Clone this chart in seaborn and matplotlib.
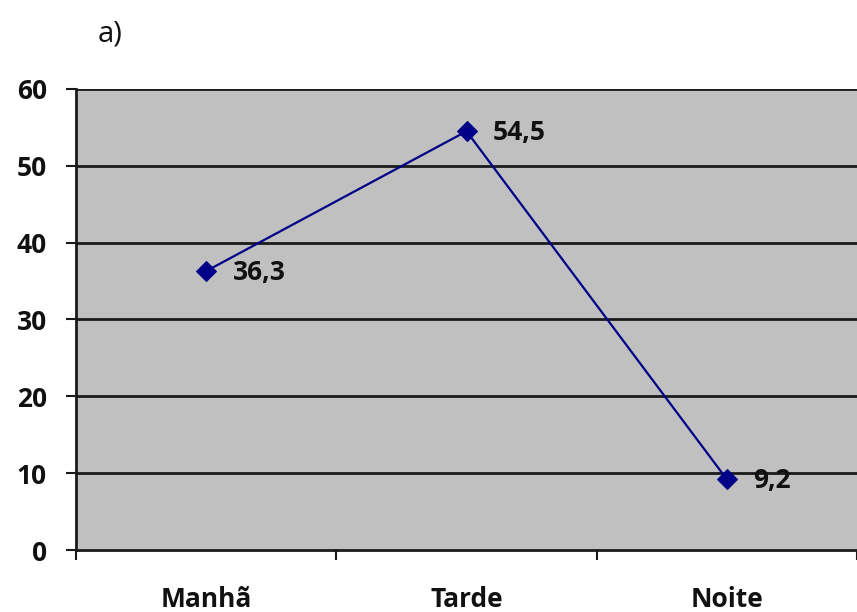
import matplotlib
matplotlib.use("Agg")
import matplotlib.pyplot as plt
import seaborn as sns
import pandas as pd

# Share by period of the day (%)
periods = ["Manhã", "Tarde", "Noite"]
values = [36.3, 54.5, 9.2]
value_labels = ["36,3", "54,5", "9,2"]
y_ticks = [0, 10, 20, 30, 40, 50, 60]

df = pd.DataFrame({"periodo": periods, "valor": values})

sns.set_theme(style="white")
plt.rcParams["font.family"] = ["Open Sans", "DejaVu Sans"]

FS = 19
fig = plt.figure(figsize=(8.57, 6.12), dpi=100)
ax = fig.add_axes([0.0887, 0.1013, 0.9113, 0.7533])
ax.set_facecolor("#C0C0C0")

# horizontal gridlines
for t in y_ticks[1:]:
    ax.axhline(t, color="#1a1a1a", lw=2.0, zorder=1)

sns.lineplot(data=df, x="periodo", y="valor", ax=ax, color="#000088",
             lw=1.6, marker="D", markersize=10, markeredgecolor="#000088",
             zorder=3, sort=False)

for i, (v, lab) in enumerate(zip(values, value_labels)):
    ax.annotate(lab, (i, v), xytext=(19, -1), textcoords="offset points",
                ha="left", va="center", fontsize=FS, fontweight="bold",
                color="#111111")

ax.set_xlim(-0.5, 2.5)
ax.set_ylim(0, 60)
ax.set_yticks(y_ticks)
ax.set_yticklabels([str(t) for t in y_ticks], fontsize=FS, fontweight="bold",
                   color="#111111")

# category labels centered, tick marks on category boundaries
ax.set_xticks([0, 1, 2])
ax.set_xticklabels(periods, fontsize=FS, fontweight="bold", color="#111111")
ax.tick_params(axis="x", which="major", length=0, pad=26)
ax.set_xticks([-0.5, 0.5, 1.5, 2.5], minor=True)
ax.tick_params(axis="x", which="minor", length=7, width=1.5, color="#1a1a1a",
               direction="out", bottom=True)
ax.tick_params(axis="y", length=7, width=1.5, color="#1a1a1a",
               direction="out", left=True, pad=14)

ax.set_xlabel("")
ax.set_ylabel("")

for side in ["top", "right"]:
    ax.spines[side].set_visible(False)
for side in ["left", "bottom"]:
    ax.spines[side].set_color("#1a1a1a")
    ax.spines[side].set_linewidth(2.0)

fig.text(0.128, 0.945, "a)", fontsize=21, color="#111111", ha="center", va="center")

fig.savefig("out.png", dpi=100)
